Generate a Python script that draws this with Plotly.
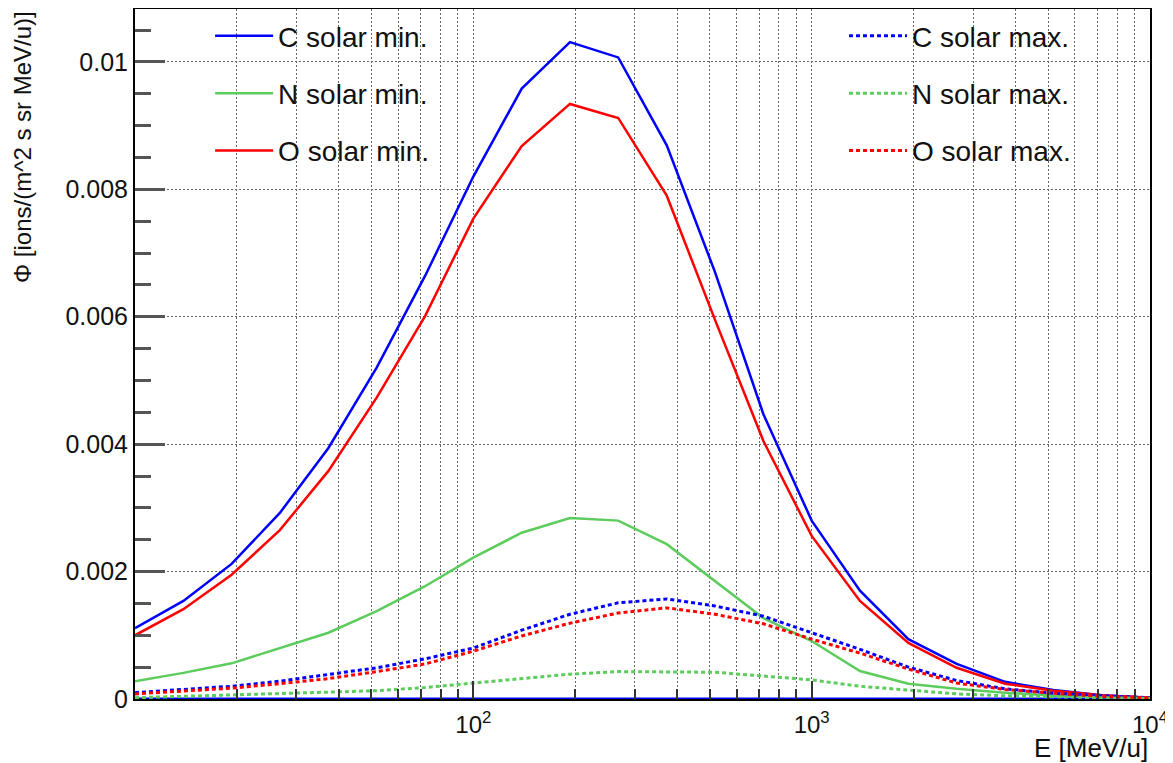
import plotly.graph_objects as go

# Energy grid (MeV/u)
energy = [10, 13.9, 19.3, 26.8, 37.3, 51.8, 72, 100, 139, 193, 268, 373,
          518, 720, 1000, 1389, 1931, 2683, 3728, 5179, 7197, 10000]

c_min = [0.00111, 0.00154, 0.00212, 0.00292, 0.00394, 0.00520, 0.00664, 0.00820,
         0.00958, 0.01031, 0.01007, 0.00869, 0.00670, 0.00447, 0.00280, 0.00170,
         0.00094, 0.00055, 0.00027, 0.00014, 0.00006, 0.00002]
n_min = [0.00028, 0.00041, 0.00056, 0.00080, 0.00104, 0.00138, 0.00177, 0.00222,
         0.00261, 0.00284, 0.00280, 0.00243, 0.00185, 0.00127, 0.00091, 0.00044,
         0.00024, 0.00016, 0.00010, 0.00005, 0.00003, 0.00001]
o_min = [0.00100, 0.00141, 0.00195, 0.00265, 0.00358, 0.00473, 0.00601, 0.00754,
         0.00868, 0.00934, 0.00912, 0.00790, 0.00595, 0.00405, 0.00256, 0.00154,
         0.00088, 0.00049, 0.00024, 0.00013, 0.00006, 0.00002]
c_max = [0.00010, 0.00015, 0.00020, 0.00028, 0.00039, 0.00049, 0.00063, 0.00080,
         0.00108, 0.00133, 0.00151, 0.00157, 0.00146, 0.00130, 0.00104, 0.00078,
         0.00050, 0.00029, 0.00016, 0.00009, 0.00005, 0.00002]
n_max = [0.00002, 0.00004, 0.00006, 0.00008, 0.00010, 0.00013, 0.00018, 0.00025,
         0.00033, 0.00039, 0.00043, 0.00043, 0.00042, 0.00036, 0.00030, 0.00020,
         0.00014, 0.00008, 0.00005, 0.00003, 0.00002, 0.00001]
o_max = [0.00008, 0.00012, 0.00017, 0.00024, 0.00032, 0.00043, 0.00055, 0.00075,
         0.00099, 0.00119, 0.00135, 0.00143, 0.00133, 0.00118, 0.00094, 0.00072,
         0.00047, 0.00025, 0.00015, 0.00009, 0.00004, 0.00002]
baseline = [0.0] * len(energy)

y_tick_vals = [0, 0.002, 0.004, 0.006, 0.008, 0.01]
y_tick_text = ["0", "0.002", "0.004", "0.006", "0.008", "0.01"]
x_tick_vals = [100, 1000, 10000]
x_tick_text = ["10<sup>2</sup>", "10<sup>3</sup>", "10<sup>4</sup>"]
x_minor_vals = [20, 30, 40, 50, 60, 70, 80, 90,
                200, 300, 400, 500, 600, 700, 800, 900,
                2000, 3000, 4000, 5000, 6000, 7000, 8000, 9000]

BLUE = "#0000ff"
GREEN = "#5ccc5c"
RED = "#ff0000"
FONT = "Liberation Sans, Arial, Helvetica, sans-serif"
TXT = "#111"

fig = go.Figure()

fig.add_trace(go.Scatter(x=energy, y=baseline, mode="lines", showlegend=False,
                         line=dict(color=BLUE, width=3), hoverinfo="skip"))

series = [
    ("C solar min.", c_min, BLUE, "solid", "legend", "g1"),
    ("N solar min.", n_min, GREEN, "solid", "legend", "g2"),
    ("O solar min.", o_min, RED, "solid", "legend", "g3"),
    ("C solar max.", c_max, BLUE, "4px,3px", "legend2", "g4"),
    ("N solar max.", n_max, GREEN, "4px,3px", "legend2", "g5"),
    ("O solar max.", o_max, RED, "4px,3px", "legend2", "g6"),
]
for name, vals, col, dash, leg, grp in series:
    fig.add_trace(go.Scatter(
        x=energy, y=vals, mode="lines", name=name, legend=leg, legendgroup=grp,
        line=dict(color=col, width=2.5 if dash == "solid" else 3, dash=dash),
    ))

legend_common = dict(
    xanchor="left", yanchor="top", bgcolor="rgba(0,0,0,0)",
    font=dict(family=FONT, size=28, color=TXT),
    tracegroupgap=18, itemwidth=58, borderwidth=0,
)

fig.update_layout(
    width=1173, height=763,
    margin=dict(l=127, r=31, t=1, b=72),
    paper_bgcolor="white", plot_bgcolor="white",
    font=dict(family=FONT, size=25, color=TXT),
    legend=dict(x=0.074, y=0.997, **legend_common),
    legend2=dict(x=0.6985, y=0.997, **legend_common),
    xaxis=dict(
        type="log", range=[1, 4], automargin=False,
        tickvals=x_tick_vals, ticktext=x_tick_text,
        ticks="inside", ticklen=18, tickwidth=2, tickcolor="#333",
        ticklabelstandoff=3,
        showline=True, linecolor="black", linewidth=2, mirror=True,
        showgrid=True, gridcolor="#666", gridwidth=1, griddash="2px,2px",
        zeroline=False,
        tickfont=dict(family=FONT, size=24, color=TXT),
        minor=dict(tickvals=x_minor_vals, ticks="inside", ticklen=10, tickwidth=2,
                   tickcolor="#333", showgrid=True, gridcolor="#666", gridwidth=1,
                   griddash="2px,2px"),
    ),
    yaxis=dict(
        range=[0, 0.01083], automargin=False,
        tickvals=y_tick_vals, ticktext=y_tick_text,
        ticks="inside", ticklen=30, tickwidth=3, tickcolor="#555",
        showline=True, linecolor="black", linewidth=2, mirror=True,
        showgrid=True, gridcolor="#666", gridwidth=1, griddash="2px,2px",
        zeroline=False,
        tickfont=dict(family=FONT, size=25, color=TXT),
        minor=dict(dtick=0.0005, tick0=0, ticks="inside", ticklen=16, tickwidth=3,
                   tickcolor="#555", showgrid=False),
    ),
    annotations=[
        dict(text="E [MeV/u]", xref="paper", yref="paper", x=1.0, y=-0.071,
             xanchor="right", yanchor="middle", showarrow=False,
             font=dict(family=FONT, size=26, color=TXT)),
        dict(text="Φ [ions/(m^2 s sr MeV/u)]", xref="paper", yref="paper",
             x=-0.1113, y=1.0, xanchor="center", yanchor="top", textangle=-90,
             showarrow=False, font=dict(family=FONT, size=24, color=TXT)),
    ],
)

fig.write_html("out.html")
